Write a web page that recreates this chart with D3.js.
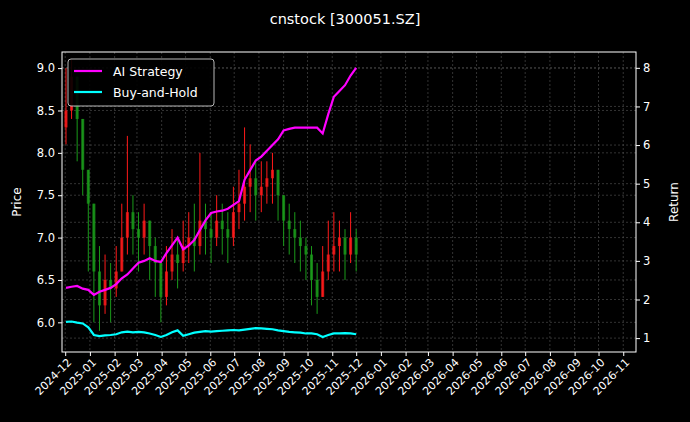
<!DOCTYPE html>
<html><head><meta charset="utf-8">
<script src="https://cdn.jsdelivr.net/npm/d3@7"></script>
<style>body{margin:0;background:#000}svg{display:block}text{font-family:"DejaVu Sans",sans-serif;fill:#fff}</style>
</head><body><svg id="chart" width="690" height="422"></svg>
<script>
// weekly bars, first week starting 2024-12-02
const closes = [8.5,8.9,8.4,7.8,7.4,6.6,6.2,6.5,6.4,6.6,7.0,7.3,7.1,7.0,7.2,6.9,6.7,6.3,6.6,6.8,6.7,6.9,7.0,6.9,7.2,7.1,7.0,7.2,7.1,7.0,7.3,7.4,7.6,7.7,7.5,7.6,7.7,7.8,7.5,7.2,7.1,7.0,6.9,6.8,6.5,6.3,6.6,6.8,6.9,7.0,6.8,7.0,6.8];
const highs = [9.0,9.1,8.9,8.4,7.8,7.4,6.9,6.8,6.7,6.9,7.4,8.2,7.5,7.3,7.4,7.2,7.0,6.7,6.9,7.1,7.0,7.2,7.3,7.4,8.0,7.4,7.3,7.5,7.4,7.3,7.6,7.8,8.3,8.1,7.9,7.9,7.9,8.0,7.8,7.5,7.4,7.3,7.2,7.0,6.9,6.7,6.9,7.2,7.3,7.2,7.1,7.3,7.1];
const lows = [8.1,8.4,7.9,7.5,6.6,6.0,5.9,6.1,6.0,6.3,6.6,6.8,6.8,6.6,6.8,6.5,6.3,6.0,6.2,6.5,6.4,6.6,6.7,6.6,6.8,6.8,6.7,6.9,6.8,6.7,6.9,7.1,7.2,7.3,7.2,7.3,7.4,7.4,7.2,6.9,6.8,6.7,6.6,6.5,6.2,6.1,6.3,6.5,6.6,6.6,6.5,6.7,6.6];
const aiStrategy = [2.3,2.33,2.35,2.28,2.25,2.12,2.2,2.25,2.3,2.4,2.55,2.65,2.8,2.95,3.0,3.07,3.0,2.97,3.2,3.4,3.6,3.3,3.4,3.54,3.8,4.05,4.24,4.28,4.3,4.35,4.45,4.55,5.1,5.35,5.6,5.7,5.85,6.0,6.15,6.38,6.42,6.45,6.45,6.45,6.45,6.45,6.3,6.8,7.25,7.4,7.55,7.8,8.0];
const buyHold = [1.42,1.43,1.4,1.38,1.28,1.08,1.05,1.07,1.08,1.1,1.15,1.17,1.15,1.16,1.15,1.12,1.08,1.03,1.08,1.15,1.2,1.06,1.1,1.14,1.16,1.18,1.17,1.18,1.19,1.2,1.21,1.2,1.22,1.24,1.26,1.25,1.24,1.23,1.2,1.18,1.16,1.15,1.14,1.12,1.12,1.1,1.03,1.08,1.12,1.12,1.13,1.12,1.1];
const priceTicks = [6.0,6.5,7.0,7.5,8.0,8.5,9.0];
const returnTicks = [1,2,3,4,5,6,7,8];

const svg = d3.select('#chart');
const m = {left: 62, right: 636, top: 52, bottom: 352};
const start = new Date(2024, 11, 2);
const dates = closes.map((c, i) => d3.timeDay.offset(start, 7 * i));

const x = d3.scaleTime().domain([new Date(2024, 10, 27), new Date(2026, 10, 17)]).range([m.left, m.right]);
const yP = d3.scaleLinear().domain([5.65, 9.19]).range([m.bottom, m.top]);
const yR = d3.scaleLinear().domain([0.64, 8.41]).range([m.bottom, m.top]);
const months = d3.timeMonth.range(new Date(2024, 11, 1), new Date(2026, 10, 2));

// grid
const grid = svg.append('g').attr('stroke', '#555').attr('stroke-width', 0.6).attr('stroke-dasharray', '2,2');
months.forEach(d => grid.append('line').attr('x1', x(d)).attr('x2', x(d)).attr('y1', m.top).attr('y2', m.bottom));
priceTicks.forEach(v => grid.append('line').attr('x1', m.left).attr('x2', m.right).attr('y1', yP(v)).attr('y2', yP(v)));
returnTicks.forEach(v => grid.append('line').attr('x1', m.left).attr('x2', m.right).attr('y1', yR(v)).attr('y2', yR(v)));

// candles
const candles = svg.append('g');
closes.forEach((c, i) => {
  const o = i === 0 ? 8.3 : closes[i - 1];
  const col = c >= o ? '#ff1a1a' : '#1a9a1a';
  const cx = x(dates[i]);
  candles.append('line').attr('x1', cx).attr('x2', cx).attr('y1', yP(highs[i])).attr('y2', yP(lows[i])).attr('stroke', col).attr('stroke-width', 1);
  candles.append('rect').attr('x', cx - 1.5).attr('width', 3)
    .attr('y', yP(Math.max(o, c))).attr('height', Math.max(1, Math.abs(yP(o) - yP(c)))).attr('fill', col).attr('opacity', 0.8);
});

const line = d3.line().x((d, i) => x(dates[i])).y(d => yR(d));
svg.append('path').datum(aiStrategy).attr('d', line).attr('fill', 'none').attr('stroke', '#ff00ff').attr('stroke-width', 2.2);
svg.append('path').datum(buyHold).attr('d', line).attr('fill', 'none').attr('stroke', '#00ffff').attr('stroke-width', 2.2);

// axes
const ax = svg.append('g').attr('transform', `translate(0,${m.bottom})`)
  .call(d3.axisBottom(x).tickValues(months).tickFormat(d3.timeFormat('%Y-%m')).tickSize(4));
ax.selectAll('text').attr('transform', 'rotate(-45)').attr('text-anchor', 'end').attr('dx', '-0.3em').attr('dy', '0.5em').style('font-size', '11px');
svg.append('g').attr('transform', `translate(${m.left},0)`).call(d3.axisLeft(yP).tickValues(priceTicks).tickFormat(d3.format('.1f')).tickSize(4))
  .selectAll('text').style('font-size', '11.5px');
svg.append('g').attr('transform', `translate(${m.right},0)`).call(d3.axisRight(yR).tickValues(returnTicks).tickSize(4))
  .selectAll('text').style('font-size', '11.5px');
svg.selectAll('.domain').remove();
svg.selectAll('.tick line').attr('stroke', '#fff');
svg.selectAll('.tick text').attr('fill', '#fff');
svg.append('rect').attr('x', m.left).attr('y', m.top).attr('width', m.right - m.left).attr('height', m.bottom - m.top)
  .attr('fill', 'none').attr('stroke', '#fff').attr('stroke-width', 1);

svg.append('text').attr('x', 345).attr('y', 24).attr('text-anchor', 'middle').style('font-size', '14.5px').text('cnstock [300051.SZ]');
svg.append('text').attr('transform', 'translate(21,202) rotate(-90)').attr('text-anchor', 'middle').style('font-size', '12px').text('Price');
svg.append('text').attr('transform', 'translate(678,202) rotate(-90)').attr('text-anchor', 'middle').style('font-size', '12px').text('Return');

// legend
const lg = svg.append('g');
lg.append('rect').attr('x', 68).attr('y', 59).attr('width', 146).attr('height', 47).attr('rx', 3).attr('fill', '#000').attr('stroke', '#ccc').attr('opacity', 0.9);
[['AI Strategy', '#ff00ff'], ['Buy-and-Hold', '#00ffff']].forEach(([t, c], i) => {
  const yy = 71 + i * 21;
  lg.append('line').attr('x1', 74).attr('x2', 102).attr('y1', yy).attr('y2', yy).attr('stroke', c).attr('stroke-width', 2.2);
  lg.append('text').attr('x', 113).attr('y', yy + 4.5).style('font-size', '12.5px').text(t);
});
</script></body></html>
